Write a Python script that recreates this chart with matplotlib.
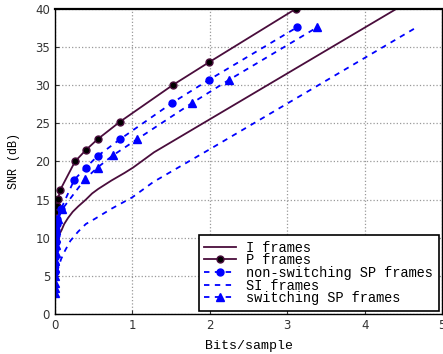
import matplotlib
matplotlib.use("Agg")
import matplotlib.pyplot as plt

# I frames (solid, no markers)
i_x = [0.0, 0.01, 0.02, 0.04, 0.06, 0.086, 0.12, 0.17, 0.23, 0.30, 0.40, 0.48, 0.56,
       0.73, 0.90, 1.01, 1.28, 4.41]
i_y = [8.3, 8.8, 9.3, 9.9, 10.5, 11.0, 11.8, 12.6, 13.4, 14.1, 15.0, 15.8, 16.4,
       17.5, 18.5, 19.2, 21.2, 40.0]

# P frames (solid, dots)
p_x = [0.0, 0.005, 0.013, 0.03, 0.043, 0.065, 0.26, 0.40, 0.55, 0.84, 1.52, 1.99, 3.11]
p_y = [10.0, 12.1, 13.5, 14.1, 15.1, 16.2, 20.0, 21.5, 22.9, 25.2, 30.0, 33.0, 40.0]

# non-switching SP frames (dashed, circles)
nsp_x = [0.0, 0.002, 0.004, 0.006, 0.009, 0.012, 0.016, 0.022, 0.032, 0.08,
         0.25, 0.40, 0.55, 0.84, 1.51, 1.99, 3.13]
nsp_y = [5.5, 6.5, 7.5, 8.5, 9.5, 10.3, 11.0, 11.8, 12.5, 13.8,
         17.6, 19.2, 20.7, 22.9, 27.65, 30.7, 37.6]

# SI frames (dashed, no markers)
si_x = [0.03, 0.05, 0.08, 0.13, 0.20, 0.30, 0.40, 0.52, 0.73, 1.0, 1.27, 2.0, 4.69]
si_y = [5.5, 6.3, 7.2, 8.3, 9.6, 10.8, 11.8, 12.5, 13.8, 15.3, 17.3, 21.6, 37.7]

# switching SP frames (dashed, triangles)
ssp_x = [0.0, 0.0, 0.002, 0.003, 0.004, 0.006, 0.008, 0.011, 0.015, 0.02, 0.043, 0.095,
         0.39, 0.55, 0.75, 1.06, 1.77, 2.25, 3.39]
ssp_y = [2.8, 3.4, 4.1, 5.0, 6.0, 7.0, 8.0, 9.0, 10.0, 11.0, 12.5, 13.75,
         17.7, 19.2, 20.8, 22.9, 27.65, 30.7, 37.6]

dark = "#4a0d3c"
blue = "#0000ff"
mono = "Liberation Mono"

fig = plt.figure(figsize=(4.43, 3.54), dpi=100)
ax = fig.add_axes([0.124, 0.113, 0.874, 0.862])

ax.plot(i_x, i_y, "-", color=dark, lw=1.3, label="I frames")
ax.plot(p_x, p_y, "-o", color=dark, lw=1.3, ms=5, mfc="black", mec=dark, label="P frames")
ax.plot(nsp_x, nsp_y, "--o", color=blue, lw=1.3, ms=5, dashes=(3, 3), label="non-switching SP frames")
ax.plot(si_x, si_y, "--", color=blue, lw=1.3, dashes=(3, 3), label="SI frames")
ax.plot(ssp_x, ssp_y, "--^", color=blue, lw=1.3, ms=5.5, dashes=(3, 3), label="switching SP frames")

ax.set_xlim(0, 5)
ax.set_ylim(0, 40)
ax.set_xticks([0, 1, 2, 3, 4, 5])
ax.set_yticks(range(0, 41, 5))
ax.grid(True, linestyle=":", color="#999999", lw=0.9)
ax.tick_params(direction="in", labelsize=8.5, length=3, colors="#333333")
ax.spines["top"].set_linewidth(1.6)
for s in ["left", "bottom", "right"]:
    ax.spines[s].set_linewidth(1.0)

ax.set_xlabel("Bits/sample", family=mono, fontsize=9.5, labelpad=6)
ax.set_ylabel("SNR (dB)", family=mono, fontsize=8.5, labelpad=11)

leg = ax.legend(loc="lower right", prop={"family": mono, "size": 9.8}, fancybox=False,
                framealpha=1, edgecolor="black", handlelength=2.3, labelspacing=-0.1,
                borderpad=0.4, handletextpad=0.8, borderaxespad=0.25)
leg.get_frame().set_linewidth(1.2)

fig.savefig("out.png", dpi=100)
